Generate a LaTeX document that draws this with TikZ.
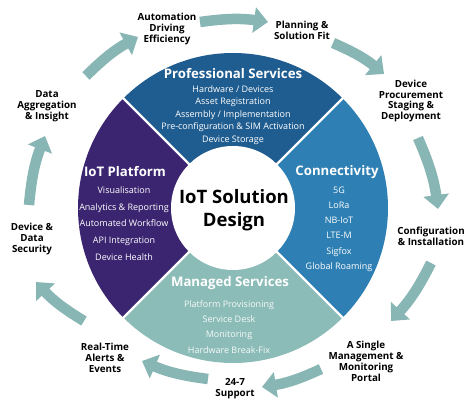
\documentclass[tikz,border=0pt]{standalone}
\usepackage{fontspec}
\setmainfont{Open Sans}
\usetikzlibrary{arrows.meta}
\definecolor{psblue}{HTML}{1F5C8F}
\definecolor{conblue}{HTML}{2E7FB3}
\definecolor{iotpurple}{HTML}{3B2470}
\definecolor{mgteal}{HTML}{8CBCB8}
\definecolor{arrteal}{HTML}{88B6B5}
\tikzset{
  sectitle/.style={text=white,font=\bfseries\fontsize{13.2}{15}\selectfont,inner sep=0pt},
  secitem/.style={text=white,font=\fontsize{9}{11}\selectfont,inner sep=0pt,text height=1.5ex,text depth=.3ex},
  outlabel/.style={text=black,font=\bfseries\fontsize{9.8}{10.9}\selectfont,align=center,inner sep=0pt},
  cyclearrow/.style={draw=arrteal,line width=10.5pt,-{Triangle[width=25pt,length=14pt]},bend left=8},
}
\begin{document}
\begin{tikzpicture}[x=1pt,y=1pt]
\useasboundingbox (0,0) rectangle (474,-419);
\fill[white] (0,0) rectangle (474,-419);
\coordinate (C) at (233,-208);
% sectors
\fill[psblue] (C) -- ++(45:155) arc[start angle=45,end angle=135,radius=155] -- cycle;
\fill[iotpurple] (C) -- ++(135:155) arc[start angle=135,end angle=225,radius=155] -- cycle;
\fill[mgteal] (C) -- ++(225:155) arc[start angle=225,end angle=315,radius=155] -- cycle;
\fill[conblue] (C) -- ++(315:155) arc[start angle=315,end angle=405,radius=155] -- cycle;
\foreach \a in {45,135,225,315} \draw[white,line width=2.2pt] (C) -- ++(\a:156);
\fill[white] (C) circle[radius=62];
% center
\node[font=\bfseries\fontsize{18.5}{22.5}\selectfont,align=center,inner sep=0pt] (center) at (234,-210) {IoT Solution\\Design};
% Professional Services
\node[sectitle] (pstitle) at (233,-74) {Professional Services};
\foreach \t [count=\i] in {Hardware / Devices,Asset Registration,Assembly / Implementation,Pre-configuration \& SIM Activation,Device Storage}
  \node[secitem] (ps\i) at (233,{-89-12.5*(\i-1)}) {\t};
% IoT Platform
\node[sectitle] (iottitle) at (125,-172) {IoT Platform};
\foreach \t [count=\i] in {Visualisation,Analytics \& Reporting,Automated Workflow,API Integration,Device Health}
  \node[secitem] (iot\i) at (124,{-190-16.8*(\i-1)}) {\t};
% Connectivity
\node[sectitle] (contitle) at (337,-172) {Connectivity};
\foreach \t [count=\i] in {5G,LoRa,NB-IoT,LTE-M,Sigfox,Global Roaming}
  \node[secitem] (con\i) at (339,{-190-15.2*(\i-1)}) {\t};
% Managed Services
\node[sectitle] (mgtitle) at (230,-283) {Managed Services};
\foreach \t [count=\i] in {Platform Provisioning,Service Desk,Monitoring,Hardware Break-Fix}
  \node[secitem,text=white!92!mgteal] (mg\i) at (229,{-304-15.3*(\i-1)}) {\t};
% outer labels
\node[outlabel] (auto) at (167,-29) {Automation\\Driving\\Efficiency};
\node[outlabel] (plan) at (302,-30) {Planning \&\\Solution Fit};
\node[outlabel] (devp) at (411,-101) {Device\\Procurement\\Staging \&\\Deployment};
\node[outlabel] (conf) at (431,-236.5) {Configuration\\\& Installation};
\node[outlabel] (portal) at (366,-361) {A Single\\Management \&\\Monitoring\\Portal};
\node[outlabel] (support) at (235,-388.5) {24-7\\Support};
\node[outlabel] (alerts) at (105,-358) {Real-Time\\Alerts \&\\Events};
\node[outlabel] (secu) at (32,-239) {Device \&\\Data\\Security};
\node[outlabel] (aggr) at (47,-106) {Data\\Aggregation\\\& Insight};
% arrow ends
\coordinate (a1s) at (200,-22); \coordinate (a1e) at (268,-22);
\coordinate (a2s) at (333,-43); \coordinate (a2e) at (384,-74);
\coordinate (a3s) at (418,-138); \coordinate (a3e) at (438,-209);
\coordinate (a4s) at (431,-263); \coordinate (a4e) at (391,-321);
\coordinate (a5s) at (321,-369); \coordinate (a5e) at (262,-387);
\coordinate (a6s) at (208,-379); \coordinate (a6e) at (142,-361);
\coordinate (a7s) at (84,-321); \coordinate (a7e) at (36,-282);
\coordinate (a8s) at (29,-205); \coordinate (a8e) at (45,-136);
\coordinate (a9s) at (86,-76); \coordinate (a9e) at (138,-37);
\foreach \i in {1,...,9} \draw[cyclearrow] (a\i s) to (a\i e);
\end{tikzpicture}
\end{document}
